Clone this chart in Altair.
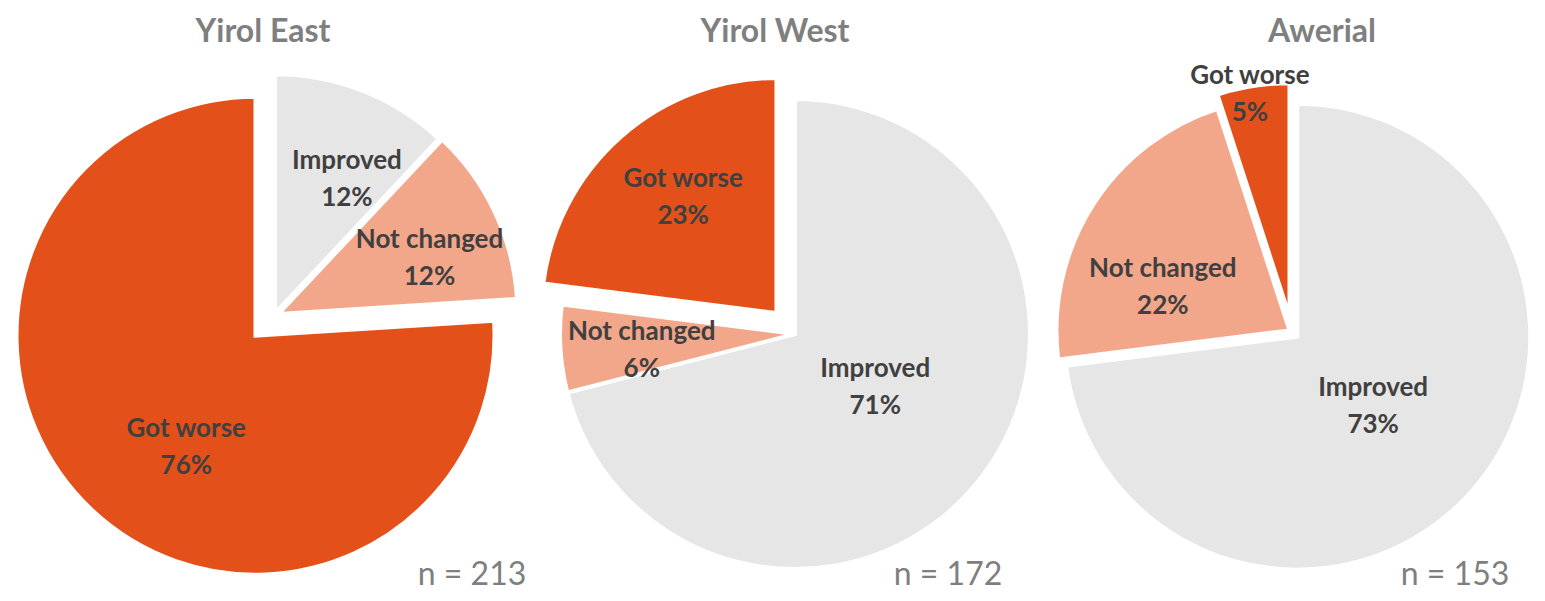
import math
import altair as alt
import pandas as pd

# ---------------- data ----------------
REGIONS = ["Yirol East", "Yirol West", "Awerial"]
CATEGORIES = ["Improved", "Not changed", "Got worse"]
YIROL_EAST = [12, 12, 76]
YIROL_WEST = [71, 6, 23]
AWERIAL = [73, 22, 5]
N_RESP = [213, 172, 153]

VALUES = {"Yirol East": YIROL_EAST, "Yirol West": YIROL_WEST, "Awerial": AWERIAL}

# ---------------- layout / style (chart pixel coords) ----------------
CENTER = {"Yirol East": (266, 308), "Yirol West": (787, 326), "Awerial": (1284, 324)}
RADIUS = {"Yirol East": 239, "Yirol West": 235, "Awerial": 233}
EXPLODE = {"Yirol East": [3, 5, 27], "Yirol West": [0, 0, 28], "Awerial": [7, 3, 16]}
# label placement relative to slice: (distance px, angle nudge deg)
LABEL = {
    "Yirol East": [(152, 6.6), (161, 4.9), (131, -11.3)],
    "Yirol West": [(96, -4.5), (154, -2.2), (149, 2.6)],
    "Awerial": [(103, 1.1), (134, -13.3), (226, -1.1)],
}
TITLE_POS = {"Yirol East": (255, 34), "Yirol West": (767, 34), "Awerial": (1314, 34)}
N_POS = {"Yirol East": (464, 577), "Yirol West": (940, 577), "Awerial": (1447, 577)}
COLORS = ["#E6E6E6", "#F2A68A", "#E4501A"]

rows = []
for reg in REGIONS:
    for i, cat in enumerate(CATEGORIES):
        rows.append({
            "region": reg, "category": cat, "order": i, "value": VALUES[reg][i],
            "cx": CENTER[reg][0], "cy": CENTER[reg][1], "r": RADIUS[reg],
            "ex": EXPLODE[reg][i], "ld": LABEL[reg][i][0], "ln": LABEL[reg][i][1],
        })
df = pd.DataFrame(rows)

tdf = pd.DataFrame({
    "region": REGIONS,
    "n": [f"n = {v}" for v in N_RESP],
    "tx": [TITLE_POS[r][0] for r in REGIONS],
    "ty": [TITLE_POS[r][1] for r in REGIONS],
    "nx": [N_POS[r][0] for r in REGIONS],
    "ny": [N_POS[r][1] for r in REGIONS],
})

base = alt.Chart(df).transform_stack(
    stack="value", groupby=["region"], as_=["v0", "v1"],
    sort=[alt.SortField("order", order="ascending")],
).transform_calculate(
    mid="(datum.v0 + datum.v1) / 200 * 2 * PI",
).transform_calculate(
    sx="datum.cx + datum.ex * sin(datum.mid)",
    sy="datum.cy - datum.ex * cos(datum.mid)",
    la="datum.mid + datum.ln * PI / 180",
    pct="datum.value + '%'",
).transform_calculate(
    lx="datum.sx + datum.ld * sin(datum.la)",
    ly="datum.sy - datum.ld * cos(datum.la)",
)

arcs = base.mark_arc(stroke="white", strokeWidth=4).encode(
    x=alt.X("sx:Q", scale=None, axis=None),
    y=alt.Y("sy:Q", scale=None, axis=None),
    theta=alt.Theta("v0:Q", scale=alt.Scale(domain=[0, 100], range=[0, 2 * math.pi])),
    theta2=alt.Theta2("v1:Q"),
    radius=alt.Radius("r:Q", scale=None),
    color=alt.Color("category:N", scale=alt.Scale(domain=CATEGORIES, range=COLORS), legend=None),
)

name_txt = base.mark_text(font="Lato", fontWeight="bold", fontSize=26, color="#404040",
                          baseline="middle", align="center", dy=-18).encode(
    x=alt.X("lx:Q", scale=None, axis=None),
    y=alt.Y("ly:Q", scale=None, axis=None),
    text="category:N",
)
pct_txt = base.mark_text(font="Lato", fontWeight="bold", fontSize=26, color="#404040",
                         baseline="middle", align="center", dy=19).encode(
    x=alt.X("lx:Q", scale=None, axis=None),
    y=alt.Y("ly:Q", scale=None, axis=None),
    text="pct:N",
)

tbase = alt.Chart(tdf)
titles = tbase.mark_text(font="Lato", fontWeight="bold", fontSize=32, color="#7F7F7F",
                         baseline="alphabetic", align="center").encode(
    x=alt.X("tx:Q", scale=None, axis=None),
    y=alt.Y("ty:Q", scale=None, axis=None),
    text="region:N",
)
ns = tbase.mark_text(font="Lato", fontSize=32, color="#7F7F7F",
                     baseline="alphabetic", align="center").encode(
    x=alt.X("nx:Q", scale=None, axis=None),
    y=alt.Y("ny:Q", scale=None, axis=None),
    text="n:N",
)

chart = alt.layer(arcs, name_txt, pct_txt, titles, ns).properties(
    width=1529, height=585, padding=0, autosize="none",
).configure_view(stroke=None)

chart.save("out.html", embed_options={"renderer": "svg", "actions": False})
